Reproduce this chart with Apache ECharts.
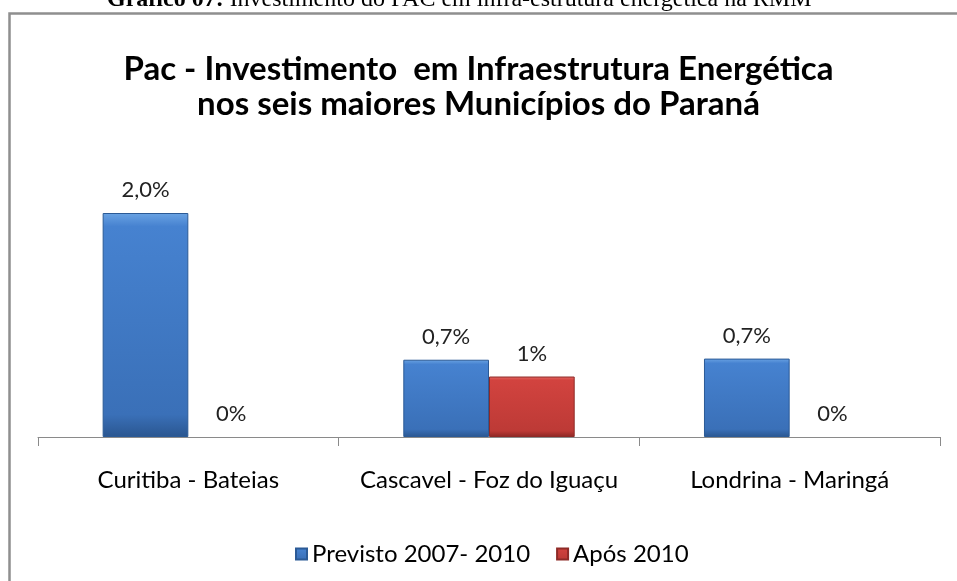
<!DOCTYPE html>
<html>
<head>
<meta charset="utf-8">
<script src="https://cdn.jsdelivr.net/npm/echarts@6/dist/echarts.min.js"></script>
<style>
  html, body { margin: 0; padding: 0; background: #fff; }
  #main { width: 957px; height: 581px; }
</style>
</head>
<body>
<div id="main"></div>
<script>
// dados
var categorias = ['Curitiba - Bateias', 'Cascavel - Foz do Iguaçu', 'Londrina - Maringá'];
var previsto = [2.0, 0.69, 0.7];
var apos = [0, 0.54, 0];
var serieNomes = ['Previsto 2007- 2010', 'Após 2010'];
var tituloLinhas = ['Pac - Investimento  em Infraestrutura Energética', 'nos seis maiores Municípios do Paraná'];

var fonte = 'Lato, "Open Sans", sans-serif';

var azul = new echarts.graphic.LinearGradient(0, 0, 0, 1, [
  { offset: 0, color: '#6aa3e3' },
  { offset: 0.06, color: '#4682d0' },
  { offset: 0.9, color: '#3a70b8' },
  { offset: 1, color: '#2a5690' }
]);
var vermelho = new echarts.graphic.LinearGradient(0, 0, 0, 1, [
  { offset: 0, color: '#e56a66' },
  { offset: 0.06, color: '#d2433f' },
  { offset: 0.9, color: '#bd3a36' },
  { offset: 1, color: '#8c2724' }
]);

// barras de valor zero ficam sem contorno (só o rótulo aparece)
function semContornoNoZero(valores) {
  return valores.map(function (v) {
    return v === 0 ? { value: v, itemStyle: { borderWidth: 0, opacity: 0 } } : v;
  });
}

var myChart = echarts.init(document.getElementById('main'));

var option = {
  backgroundColor: '#ffffff',
  animation: false,
  title: {
    text: tituloLinhas.join('\n'),
    left: 'center',
    top: 47,
    textStyle: {
      fontFamily: fonte,
      fontSize: 33,
      fontWeight: 'bold',
      color: '#000',
      lineHeight: 35
    }
  },
  graphic: [
    {
      type: 'rect',
      shape: { x: 9.5, y: 13.5, width: 1200, height: 1200 },
      style: { fill: 'none', stroke: '#8f8f8f', lineWidth: 2.5 },
      silent: true
    },
    {
      type: 'text',
      left: 107,
      top: -12,
      style: {
        text: '{b|Gráfico 07:} Investimento do PAC em infra-estrutura energética na RMM',
        fontFamily: '"Liberation Serif", serif',
        fontSize: 24,
        fill: '#000',
        rich: {
          b: { fontFamily: '"Liberation Serif", serif', fontSize: 24, fontWeight: 'bold', fill: '#000' }
        }
      }
    }
  ],
  legend: {
    data: serieNomes,
    top: 537,
    left: 290,
    itemWidth: 11,
    itemHeight: 11,
    itemGap: 26,
    icon: 'rect',
    textStyle: { fontFamily: fonte, fontSize: 24, color: '#000' }
  },
  grid: {
    left: 38,
    right: 17,
    top: 213,
    bottom: 144,
    containLabel: false
  },
  xAxis: {
    type: 'category',
    data: categorias,
    axisLine: { lineStyle: { color: '#8a8a8a', width: 1 } },
    axisTick: { show: true, length: 9, lineStyle: { color: '#8a8a8a' } },
    axisLabel: { interval: 0, margin: 31, fontFamily: fonte, fontSize: 24, color: '#000' }
  },
  yAxis: {
    type: 'value',
    min: 0,
    max: 2,
    show: false,
    splitLine: { show: false }
  },
  series: [
    {
      name: serieNomes[0],
      type: 'bar',
      data: semContornoNoZero(previsto),
      barWidth: '28.5%',
      barGap: '0%',
      itemStyle: { color: azul, borderColor: '#2b5a96', borderWidth: 1 },
      label: {
        show: true,
        position: 'top',
        distance: 12,
        fontFamily: fonte,
        fontSize: 22,
        color: '#222',
        opacity: 1,
        formatter: function (p) { return p.value.toFixed(1).replace('.', ',') + '%'; }
      }
    },
    {
      name: serieNomes[1],
      type: 'bar',
      data: semContornoNoZero(apos),
      barWidth: '28.5%',
      itemStyle: { color: vermelho, borderColor: '#8e2a27', borderWidth: 1 },
      label: {
        show: true,
        position: 'top',
        distance: 12,
        fontFamily: fonte,
        fontSize: 22,
        color: '#222',
        opacity: 1,
        formatter: function (p) { return Math.round(p.value) + '%'; }
      }
    }
  ]
};

myChart.setOption(option);
</script>
</body>
</html>
